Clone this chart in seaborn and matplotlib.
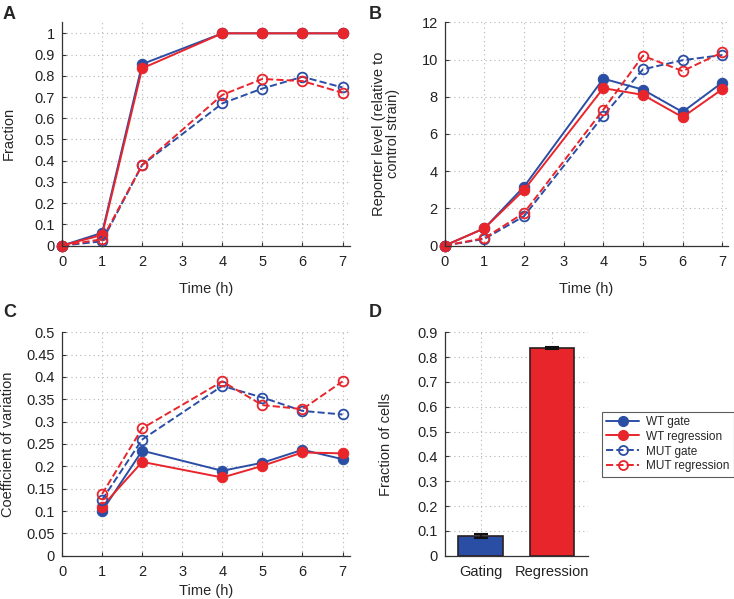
import matplotlib
matplotlib.use("Agg")
import matplotlib.pyplot as plt
from matplotlib.ticker import FuncFormatter
from matplotlib.lines import Line2D
import seaborn as sns
import numpy as np

# time points (h)
t_ab = [0, 1, 2, 4, 5, 6, 7]
t_c = [1, 2, 4, 5, 6, 7]

# panel A: fraction
a_wt_gate = [0, 0.06, 0.855, 1.0, 1.0, 1.0, 1.0]
a_wt_reg = [0, 0.05, 0.835, 1.0, 1.0, 1.0, 1.0]
a_mut_gate = [0, 0.02, 0.38, 0.67, 0.74, 0.795, 0.745]
a_mut_reg = [0, 0.03, 0.38, 0.71, 0.785, 0.775, 0.72]

# panel B: reporter level
b_wt_gate = [0, 0.93, 3.17, 8.97, 8.38, 7.18, 8.76]
b_wt_reg = [0, 0.93, 2.99, 8.46, 8.1, 6.9, 8.4]
b_mut_gate = [0, 0.36, 1.58, 6.98, 9.47, 9.96, 10.24]
b_mut_reg = [0, 0.4, 1.76, 7.3, 10.2, 9.38, 10.38]

# panel C: coefficient of variation
c_wt_gate = [0.100, 0.235, 0.190, 0.208, 0.237, 0.216]
c_wt_reg = [0.110, 0.210, 0.175, 0.201, 0.231, 0.229]
c_mut_gate = [0.125, 0.260, 0.380, 0.354, 0.324, 0.316]
c_mut_reg = [0.138, 0.285, 0.390, 0.337, 0.328, 0.390]

# panel D: fraction of cells
d_labels = ["Gating", "Regression"]
d_values = [0.079, 0.838]
d_errors = [0.009, 0.004]

series_names = ["WT gate", "WT regression", "MUT gate", "MUT regression"]

BLUE = "#2b4ea5"
RED = "#e8252b"
FS = 10.5

sns.set_theme(style="white")
plt.rcParams['font.family'] = ['Liberation Sans', 'DejaVu Sans']
plt.rcParams['font.size'] = FS

fig = plt.figure(figsize=(7.34, 5.99), dpi=100)
axA = fig.add_axes([0.0845, 0.590, 0.392, 0.3728])
axB = fig.add_axes([0.606, 0.590, 0.386, 0.3728])
axC = fig.add_axes([0.0845, 0.0723, 0.392, 0.373])
axD = fig.add_axes([0.606, 0.0723, 0.195, 0.373])

fmt = FuncFormatter(lambda v, p: "%g" % round(v, 3))


def style_axes(ax):
    ax.grid(True, linestyle=(0, (1, 3)), color="#b5b5b5", linewidth=0.8)
    ax.set_axisbelow(True)
    for s in ["top", "right"]:
        ax.spines[s].set_visible(False)
    for s in ["left", "bottom"]:
        ax.spines[s].set_color("#333333")
        ax.spines[s].set_linewidth(0.9)
    ax.tick_params(direction="in", length=3, width=0.8, colors="#333333",
                   labelcolor="#222222", labelsize=FS, left=True, bottom=True)
    ax.tick_params(axis="x", pad=7)
    ax.tick_params(axis="y", pad=5)
    ax.yaxis.set_major_formatter(fmt)


def draw_series(ax, x, ys):
    styles = [
        dict(color=BLUE, linestyle="-", marker="o", markersize=7.5, mfc=BLUE, mec=BLUE),
        dict(color=RED, linestyle="-", marker="o", markersize=7.5, mfc=RED, mec=RED),
        dict(color=BLUE, linestyle="--", marker="o", markersize=7, mfc="none", mec=BLUE, mew=1.3),
        dict(color=RED, linestyle="--", marker="o", markersize=7, mfc="none", mec=RED, mew=1.3),
    ]
    for y, st in zip(ys, styles):
        sns.lineplot(x=x, y=y, ax=ax, linewidth=1.4, clip_on=False, **st)


draw_series(axA, t_ab, [a_wt_gate, a_wt_reg, a_mut_gate, a_mut_reg])
style_axes(axA)
axA.set_xlim(0, 7.18)
axA.set_ylim(0, 1.052)
axA.set_xticks(range(8))
axA.set_yticks(np.arange(0, 1.01, 0.1))
axA.set_xlabel("Time (h)", fontsize=FS)
axA.set_ylabel("Fraction", fontsize=FS)
axA.xaxis.set_label_coords(0.5, -0.163)
axA.yaxis.set_label_coords(-0.162, 0.5)

draw_series(axB, t_ab, [b_wt_gate, b_wt_reg, b_mut_gate, b_mut_reg])
style_axes(axB)
axB.set_xlim(0, 7.15)
axB.set_ylim(0, 12)
axB.set_xticks(range(8))
axB.set_yticks(range(0, 13, 2))
axB.set_xlabel("Time (h)", fontsize=FS)
axB.set_ylabel("Reporter level (relative to\ncontrol strain)", fontsize=FS, linespacing=1.0)
axB.xaxis.set_label_coords(0.5, -0.163)
axB.yaxis.set_label_coords(-0.158, 0.5)

draw_series(axC, t_c, [c_wt_gate, c_wt_reg, c_mut_gate, c_mut_reg])
style_axes(axC)
axC.set_xlim(0, 7.18)
axC.set_ylim(0, 0.5)
axC.set_xticks(range(8))
axC.set_yticks(np.arange(0, 0.501, 0.05))
axC.set_xlabel("Time (h)", fontsize=FS)
axC.set_ylabel("Coefficient of variation", fontsize=FS)
axC.xaxis.set_label_coords(0.5, -0.127)
axC.yaxis.set_label_coords(-0.162, 0.5)

sns.barplot(x=d_labels, y=d_values, hue=d_labels, palette=[BLUE, RED], saturation=1,
            width=0.62, edgecolor="#2a1f1f", linewidth=1.2, ax=axD, legend=False)
axD.errorbar(x=[0, 1], y=d_values, yerr=d_errors, fmt="none",
             ecolor="#111111", elinewidth=1.2, capsize=5, capthick=1.5)
style_axes(axD)
axD.set_xlim(-0.5, 1.5)
axD.set_ylim(0, 0.9)
axD.set_yticks(np.arange(0, 0.901, 0.1))
axD.tick_params(axis="x", length=0)
axD.set_ylabel("Fraction of cells", fontsize=FS)
axD.set_xlabel("")
axD.yaxis.set_label_coords(-0.362, 0.5)

fig.text(0.004, 0.99, "A", fontsize=13, fontweight="bold", va="top")
fig.text(0.503, 0.99, "B", fontsize=13, fontweight="bold", va="top")
fig.text(0.004, 0.492, "C", fontsize=13, fontweight="bold", va="top")
fig.text(0.503, 0.492, "D", fontsize=13, fontweight="bold", va="top")

handles = [
    Line2D([], [], color=BLUE, linestyle="-", marker="o", markersize=7, mfc=BLUE, mec=BLUE, linewidth=1.4),
    Line2D([], [], color=RED, linestyle="-", marker="o", markersize=7, mfc=RED, mec=RED, linewidth=1.4),
    Line2D([], [], color=BLUE, linestyle="--", marker="o", markersize=6.5, mfc="none", mec=BLUE, mew=1.3, linewidth=1.4),
    Line2D([], [], color=RED, linestyle="--", marker="o", markersize=6.5, mfc="none", mec=RED, mew=1.3, linewidth=1.4),
]
leg = fig.legend(handles, series_names, loc="upper left", bbox_to_anchor=(0.82, 0.313),
                 fontsize=8.5, frameon=True, fancybox=False, edgecolor="#333333",
                 handlelength=2.8, borderpad=0.35, labelspacing=0.25, handletextpad=0.6,
                 borderaxespad=0)
leg.get_frame().set_linewidth(0.8)

fig.savefig("out.png", dpi=100)
